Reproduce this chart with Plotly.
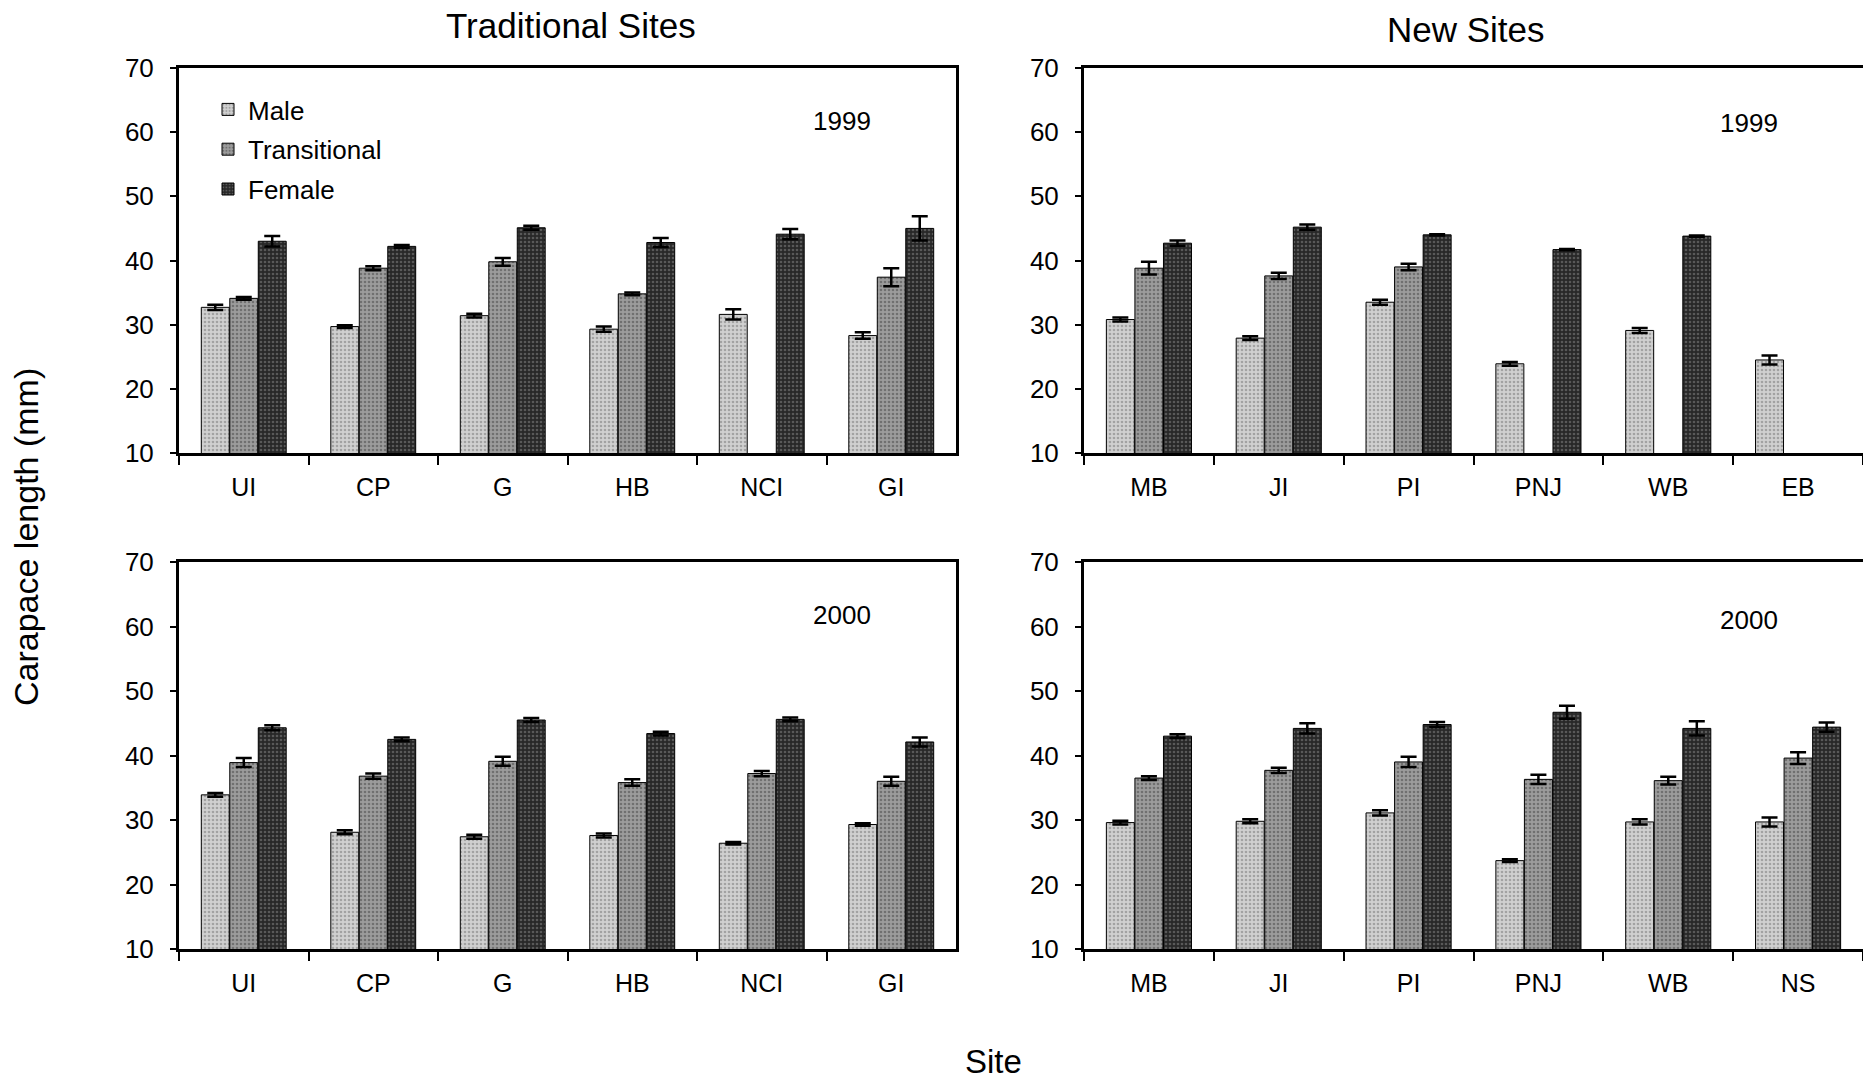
import plotly.graph_objects as go

# Sites
trad_sites = ["UI", "CP", "G", "HB", "NCI", "GI"]
new_sites_99 = ["MB", "JI", "PI", "PNJ", "WB", "EB"]
new_sites_00 = ["MB", "JI", "PI", "PNJ", "WB", "NS"]

# Mean carapace length (mm) and standard error, traditional sites, 1999
trad99_male = [32.7, 29.7, 31.4, 29.3, 31.6, 28.3]
trad99_male_se = [0.4, 0.2, 0.3, 0.4, 0.8, 0.5]
trad99_trans = [34.1, 38.8, 39.8, 34.8, None, 37.4]
trad99_trans_se = [0.2, 0.3, 0.6, 0.2, None, 1.4]
trad99_female = [43.0, 42.2, 45.1, 42.8, 44.1, 45.0]
trad99_female_se = [0.8, 0.2, 0.3, 0.7, 0.8, 1.9]

# Traditional sites, 2000
trad00_male = [33.9, 28.1, 27.4, 27.6, 26.4, 29.3]
trad00_male_se = [0.3, 0.3, 0.3, 0.3, 0.2, 0.2]
trad00_trans = [38.9, 36.8, 39.1, 35.8, 37.2, 36.0]
trad00_trans_se = [0.7, 0.4, 0.7, 0.5, 0.4, 0.7]
trad00_female = [44.3, 42.5, 45.5, 43.4, 45.6, 42.1]
trad00_female_se = [0.4, 0.3, 0.3, 0.3, 0.3, 0.7]

# New sites, 1999
new99_male = [30.8, 27.9, 33.5, 23.9, 29.1, 24.5]
new99_male_se = [0.3, 0.3, 0.4, 0.3, 0.4, 0.7]
new99_trans = [38.8, 37.6, 39.0, None, None, None]
new99_trans_se = [1.0, 0.5, 0.5, None, None, None]
new99_female = [42.7, 45.2, 44.0, 41.7, 43.8, None]
new99_female_se = [0.4, 0.4, 0.1, 0.1, 0.1, None]

# New sites, 2000
new00_male = [29.6, 29.8, 31.1, 23.7, 29.7, 29.7]
new00_male_se = [0.3, 0.3, 0.4, 0.2, 0.4, 0.7]
new00_trans = [36.5, 37.7, 39.0, 36.3, 36.1, 39.6]
new00_trans_se = [0.3, 0.4, 0.8, 0.7, 0.6, 0.9]
new00_female = [43.0, 44.2, 44.8, 46.7, 44.2, 44.4]
new00_female_se = [0.3, 0.8, 0.4, 1.0, 1.1, 0.7]

sex_names = ["Male", "Transitional", "Female"]

FONT = "Liberation Sans, Arial, sans-serif"

styles = {
    "Male": dict(bg="#d0d0d0", fg="#747474"),
    "Transitional": dict(bg="#9c9c9c", fg="#444444"),
    "Female": dict(bg="#282828", fg="#8a8a8a"),
}

panels = [
    ("x", "y", trad_sites, [(trad99_male, trad99_male_se), (trad99_trans, trad99_trans_se), (trad99_female, trad99_female_se)]),
    ("x2", "y2", new_sites_99, [(new99_male, new99_male_se), (new99_trans, new99_trans_se), (new99_female, new99_female_se)]),
    ("x3", "y3", trad_sites, [(trad00_male, trad00_male_se), (trad00_trans, trad00_trans_se), (trad00_female, trad00_female_se)]),
    ("x4", "y4", new_sites_00, [(new00_male, new00_male_se), (new00_trans, new00_trans_se), (new00_female, new00_female_se)]),
]

fig = go.Figure()
for i, (xa, ya, cats, series) in enumerate(panels):
    for name, (vals, errs) in zip(sex_names, series):
        st = styles[name]
        fig.add_trace(go.Bar(
            x=cats, y=vals, name=name, xaxis=xa, yaxis=ya,
            showlegend=(i == 0), offsetgroup=name, legendgroup=name,
            marker=dict(
                color=st["bg"],
                line=dict(color="#000000", width=1),
                pattern=dict(shape=".", fgcolor=st["fg"], bgcolor=st["bg"],
                             size=4, solidity=0.35),
            ),
            error_y=dict(type="data", array=errs, visible=True,
                         color="#000000", thickness=2.5, width=8),
        ))

W, H = 1863, 1082
xdom_left = [179 / W, 956 / W]
xdom_right = [1084 / W, 1.0]
ydom_top = [1 - 453 / H, 1 - 68 / H]
ydom_bot = [1 - 949 / H, 1 - 562 / H]

def xaxis_style(domain, anchor):
    return dict(
        domain=domain, anchor=anchor, type="category", automargin=False,
        showline=True, linewidth=3, linecolor="#000000", mirror=True,
        ticks="outside", tickson="boundaries", ticklen=9, tickwidth=2,
        tickcolor="#000000", ticklabelstandoff=10,
        tickfont=dict(family=FONT, size=25, color="#000000"),
        showgrid=False, zeroline=False,
    )

def yaxis_style(domain, anchor):
    return dict(
        domain=domain, anchor=anchor, range=[10, 70], dtick=10, tick0=10,
        automargin=False,
        showline=True, linewidth=3, linecolor="#000000", mirror=True,
        ticks="outside", ticklen=6, tickwidth=2, tickcolor="#000000",
        ticklabelstandoff=11,
        tickfont=dict(family=FONT, size=26, color="#000000"),
        showgrid=False, zeroline=False,
    )

fig.update_layout(
    width=W, height=H,
    margin=dict(l=0, r=0, t=0, b=0, pad=0, autoexpand=False),
    paper_bgcolor="#ffffff", plot_bgcolor="#ffffff",
    barmode="group", bargap=0.34, bargroupgap=0.02,
    xaxis=xaxis_style(xdom_left, "y"),
    yaxis=yaxis_style(ydom_top, "x"),
    xaxis2=xaxis_style(xdom_right, "y2"),
    yaxis2=yaxis_style(ydom_top, "x2"),
    xaxis3=xaxis_style(xdom_left, "y3"),
    yaxis3=yaxis_style(ydom_bot, "x3"),
    xaxis4=xaxis_style(xdom_right, "y4"),
    yaxis4=yaxis_style(ydom_bot, "x4"),
    legend=dict(
        x=208 / W, y=1 - 86 / H, xanchor="left", yanchor="top",
        bgcolor="rgba(0,0,0,0)", borderwidth=0,
        font=dict(family=FONT, size=26, color="#000000"),
        traceorder="grouped", tracegroupgap=3,
    ),
    font=dict(family=FONT, color="#000000"),
)

def txt(x, y, s, size, angle=0):
    fig.add_annotation(
        x=x / W, y=1 - y / H, xref="paper", yref="paper", text=s,
        showarrow=False, textangle=angle, xanchor="center", yanchor="middle",
        font=dict(family=FONT, size=size, color="#000000"),
    )

txt(571, 26, "Traditional Sites", 35)
txt(1466, 29, "New Sites", 35)
txt(993, 1061, "Site", 33)
txt(26, 537, "Carapace length (mm)", 34, angle=-90)
txt(842, 121, "1999", 26)
txt(1749, 123, "1999", 26)
txt(842, 615, "2000", 26)
txt(1749, 620, "2000", 26)

fig.write_html("out.html")
